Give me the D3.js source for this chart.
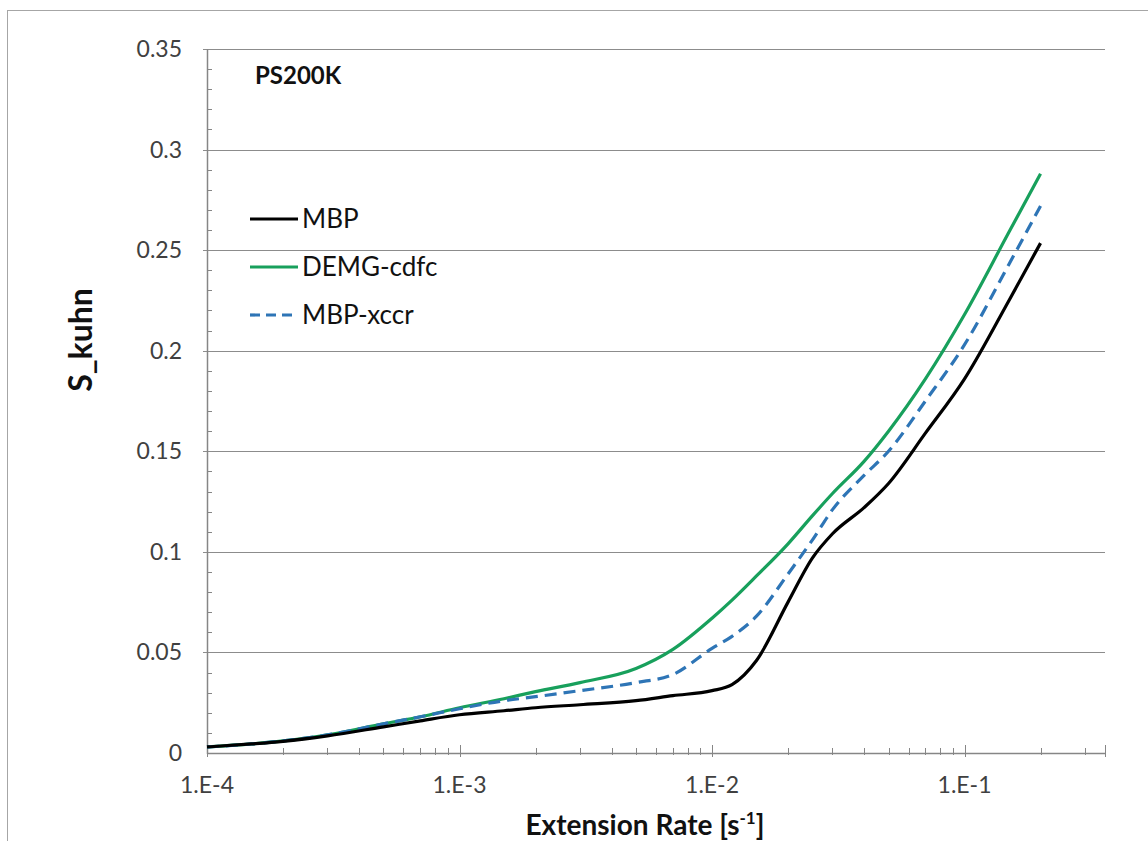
<!DOCTYPE html>
<html>
<head>
<meta charset="utf-8">
<script src="https://cdn.jsdelivr.net/npm/d3@7"></script>
<style>
  body { margin: 0; background: #fff; }
  svg { display: block; font-family: Lato, "Open Sans", sans-serif; }
</style>
</head>
<body>
<div id="chart"></div>
<script>
// extension rates [1/s], shared by all series
var rates = [1e-4, 1.5e-4, 2e-4, 3e-4, 5e-4, 7e-4, 1e-3, 1.5e-3, 2e-3, 3e-3, 5e-3, 7e-3,
  1e-2, 1.2e-2, 1.5e-2, 2e-2, 2.5e-2, 3e-2, 4e-2, 5e-2, 7e-2, 1e-1, 1.5e-1, 2e-1];

var mbp = [0.003, 0.0045, 0.0058, 0.0085, 0.013, 0.016, 0.019, 0.021, 0.0225, 0.024, 0.026, 0.0285,
  0.031, 0.034, 0.046, 0.075, 0.097, 0.109, 0.122, 0.134, 0.159, 0.186, 0.225, 0.2535];
var demg = [0.003, 0.0045, 0.006, 0.009, 0.0145, 0.018, 0.0225, 0.027, 0.0305, 0.035, 0.042, 0.0515,
  0.067, 0.076, 0.088, 0.104, 0.118, 0.129, 0.145, 0.16, 0.186, 0.218, 0.259, 0.288];
var xccr = [0.003, 0.0045, 0.006, 0.009, 0.0145, 0.018, 0.022, 0.026, 0.028, 0.031, 0.035, 0.039,
  0.052, 0.058, 0.068, 0.089, 0.106, 0.121, 0.138, 0.15, 0.175, 0.203, 0.243, 0.272];

var seriesNames = ["MBP", "DEMG-cdfc", "MBP-xccr"];
var seriesColors = ["#000000", "#18a05c", "#2e75b6"];
var seriesDash = [null, null, "12,7"];

var xTickValues = [1e-4, 1e-3, 1e-2, 1e-1];
var xTickLabels = ["1.E-4", "1.E-3", "1.E-2", "1.E-1"];
var yTickValues = [0, 0.05, 0.1, 0.15, 0.2, 0.25, 0.3, 0.35];
var yTickLabels = ["0", "0.05", "0.1", "0.15", "0.2", "0.25", "0.3", "0.35"];

var width = 1148, height = 841;
var svg = d3.select("#chart").append("svg")
  .attr("width", width)
  .attr("height", height);

// chart frame
svg.append("rect")
  .attr("x", 7.5).attr("y", 10.5)
  .attr("width", width).attr("height", height)
  .attr("fill", "none")
  .attr("stroke", "#a6a6a6")
  .attr("stroke-width", 1);

var x = d3.scaleLog().domain([1e-4, 0.36]).range([207, 1105]);
var y = d3.scaleLinear().domain([0, 0.35]).range([753, 49]);

// horizontal gridlines
svg.append("g").selectAll("line")
  .data(yTickValues.slice(1))
  .enter().append("line")
  .attr("x1", 203).attr("x2", 1105)
  .attr("y1", d => Math.round(y(d)) + 0.5)
  .attr("y2", d => Math.round(y(d)) + 0.5)
  .attr("stroke", "#8c8c8c")
  .attr("stroke-width", 1.2);

// y minor ticks (inside)
var yMinor = d3.range(1, 35).filter(i => i % 5 != 0).map(i => i / 100);
svg.append("g").selectAll("line")
  .data(yMinor)
  .enter().append("line")
  .attr("x1", 207).attr("x2", 212)
  .attr("y1", d => Math.round(y(d)) + 0.5)
  .attr("y2", d => Math.round(y(d)) + 0.5)
  .attr("stroke", "#868686");

// x minor ticks
var xMinor = [];
[1e-4, 1e-3, 1e-2, 1e-1].forEach(function(dec) {
  for (var k = 2; k <= 9; k++) {
    if (dec * k <= 0.36) xMinor.push(dec * k);
  }
});
svg.append("g").selectAll("line")
  .data(xMinor)
  .enter().append("line")
  .attr("x1", d => Math.round(x(d)) + 0.5)
  .attr("x2", d => Math.round(x(d)) + 0.5)
  .attr("y1", 748).attr("y2", 755)
  .attr("stroke", "#868686");
svg.append("g").selectAll("line")
  .data(xTickValues.concat([0.36]))
  .enter().append("line")
  .attr("x1", d => Math.round(x(d)) + 0.5)
  .attr("x2", d => Math.round(x(d)) + 0.5)
  .attr("y1", 745).attr("y2", 757)
  .attr("stroke", "#868686");

// axis lines
svg.append("line")
  .attr("x1", 207.5).attr("x2", 207.5)
  .attr("y1", 49).attr("y2", 754)
  .attr("stroke", "#868686").attr("stroke-width", 1.5);
svg.append("line")
  .attr("x1", 207).attr("x2", 1105)
  .attr("y1", 753.5).attr("y2", 753.5)
  .attr("stroke", "#868686").attr("stroke-width", 1.5);

// y tick labels
svg.append("g").selectAll("text")
  .data(yTickValues)
  .enter().append("text")
  .attr("x", 182)
  .attr("y", d => y(d) + 8)
  .attr("text-anchor", "end")
  .attr("font-size", 23)
  .attr("fill", "#404040")
  .text((d, i) => yTickLabels[i]);

// x tick labels
svg.append("g").selectAll("text")
  .data(xTickValues)
  .enter().append("text")
  .attr("x", d => x(d))
  .attr("y", 793)
  .attr("text-anchor", "middle")
  .attr("font-size", 23)
  .attr("fill", "#404040")
  .text((d, i) => xTickLabels[i]);

// curves
var allSeries = [mbp, demg, xccr];
var line = d3.line()
  .x((d, i) => x(rates[i]))
  .y(d => y(d))
  .curve(d3.curveMonotoneX);

[1, 2, 0].forEach(function(s) {
  svg.append("path")
    .attr("d", line(allSeries[s]))
    .attr("fill", "none")
    .attr("stroke", seriesColors[s])
    .attr("stroke-width", 3.2)
    .attr("stroke-dasharray", seriesDash[s]);
});

// legend
var legendY = [219, 267, 315];
seriesNames.forEach(function(name, i) {
  svg.append("line")
    .attr("x1", 250).attr("x2", 298)
    .attr("y1", legendY[i]).attr("y2", legendY[i])
    .attr("stroke", seriesColors[i])
    .attr("stroke-width", 3.2)
    .attr("stroke-dasharray", seriesDash[i] ? "10,6" : null);
  svg.append("text")
    .attr("x", 302)
    .attr("y", legendY[i] + 9)
    .attr("font-size", 26)
    .attr("fill", "#111")
    .text(name);
});

// sample label
svg.append("text")
  .attr("x", 255).attr("y", 84)
  .attr("font-size", 24)
  .attr("font-weight", "bold")
  .attr("fill", "#111")
  .text("PS200K");

// axis titles
var xTitle = svg.append("text")
  .attr("x", 645).attr("y", 835)
  .attr("text-anchor", "middle")
  .attr("font-size", 28)
  .attr("font-weight", "bold")
  .attr("fill", "#111");
xTitle.append("tspan").text("Extension Rate [s");
xTitle.append("tspan").attr("font-size", 17).attr("dy", -11).text("-1");
xTitle.append("tspan").attr("dy", 11).text("]");

svg.append("text")
  .attr("transform", "translate(92,340) rotate(-90)")
  .attr("text-anchor", "middle")
  .attr("font-size", 32)
  .attr("font-weight", "bold")
  .attr("fill", "#111")
  .text("S_kuhn");
</script>
</body>
</html>
